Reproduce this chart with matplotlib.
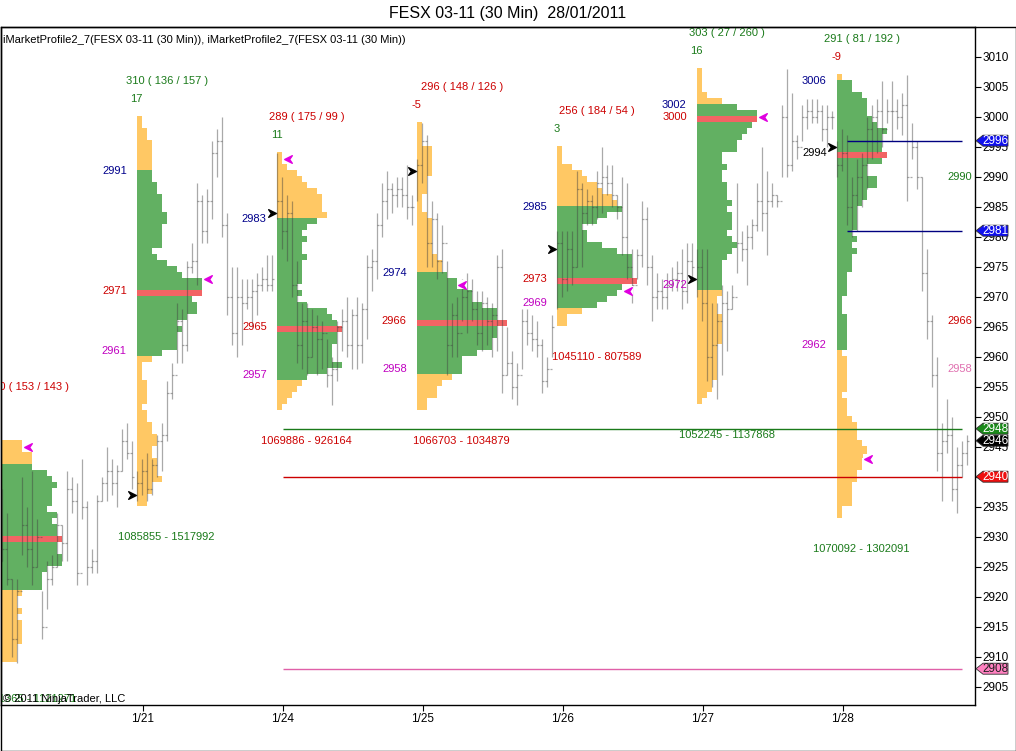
import matplotlib
matplotlib.use("Agg")
import matplotlib.pyplot as plt
import numpy as np
from matplotlib.path import Path
from matplotlib.patches import Polygon, Rectangle

plt.rcParams['font.family'] = ['Liberation Sans', 'DejaVu Sans']

DAY_LABELS = ["1/20", "1/21", "1/24", "1/25", "1/26", "1/27", "1/28"]

# market profile rows: top price, then TPO count per 1-point row going down
PROFILE_TOP = [2949, 3000, 2994, 2999, 2995, 3008, 3007]
PROFILE_TPO = [
    [1, 1, 1, 5, 5, 7, 7, 7, 10, 11, 12, 11, 11, 11, 10, 12, 11, 12, 12, 13, 12, 12, 13, 13, 10, 9, 9, 9,
     5, 4, 4, 5, 4, 5, 5, 5, 5, 4, 4, 4, 1],
    [1, 1, 2, 2, 3, 3, 3, 3, 3, 3, 3, 4, 4, 5, 5, 5, 6, 6, 5, 5, 5, 5, 3, 4, 6, 8, 9, 13, 13, 13, 11, 12, 12,
     10, 8, 9, 8, 8, 8, 5, 3, 1, 1, 1, 2, 2, 2, 2, 1, 2, 2, 3, 3, 4, 4, 3, 3, 4, 4, 4, 5, 3, 3, 2, 2],
    [1, 1, 2, 4, 5, 6, 8, 9, 9, 9, 10, 8, 6, 5, 6, 5, 5, 6, 5, 5, 5, 5, 4, 5, 4, 6, 10, 11, 12, 13, 12, 12,
     11, 11, 11, 13, 10, 6, 5, 4, 3, 2, 1],
    [1, 1, 1, 1, 3, 3, 3, 3, 3, 2, 2, 2, 1, 1, 1, 2, 3, 3, 3, 3, 3, 3, 4, 5, 5, 6, 8, 10, 11, 11, 13, 16, 16,
     18, 16, 16, 15, 15, 12, 9, 9, 9, 7, 5, 4, 4, 2, 2],
    [1, 1, 1, 3, 5, 6, 8, 9, 11, 12, 13, 10, 8, 5, 6, 6, 9, 12, 15, 15, 15, 15, 16, 13, 12, 10, 8, 5, 2, 2],
    [1, 1, 1, 1, 2, 5, 8, 12, 12, 11, 10, 9, 8, 8, 5, 5, 6, 5, 5, 6, 6, 6, 7, 6, 7, 7, 7, 6, 7, 8, 7, 6, 5,
     5, 5, 5, 5, 5, 4, 4, 4, 5, 5, 5, 5, 5, 4, 4, 4, 4, 4, 4, 3, 3, 2, 1],
    [1, 3, 3, 5, 6, 6, 6, 7, 8, 10, 9, 9, 9, 10, 9, 6, 6, 8, 8, 6, 6, 5, 4, 4, 4, 4, 3, 4, 3, 4, 3, 3, 3, 2,
     2, 2, 2, 1, 1, 1, 2, 2, 2, 2, 2, 2, 1, 2, 2, 2, 2, 2, 2, 1, 2, 2, 2, 3, 4, 4, 4, 5, 6, 6, 5, 5, 4, 4,
     3, 3, 3, 3, 1, 1],
]
VAH = [2942, 2991, 2983, 2974, 2985, 3002, 3006]
VAL = [2922, 2961, 2957, 2958, 2969, 2972, 2962]
POC = [2930, 2971, 2965, 2966, 2973, 3000, 2994]
OPEN_MARK = [None, 2937, 2984, 2991, 2978, 2973, 2995]
CLOSE_MARK = [2945, 2973, 2993, 2972, 2971, 3000, 2943]
TPO_TOTAL = [290, 310, 289, 296, 256, 303, 291]
TPO_UP = [153, 136, 175, 148, 184, 27, 81]
TPO_DN = [143, 157, 99, 126, 54, 260, 192]
DELTA = [None, 17, 11, -5, 3, 16, -9]
VOL_A = [1021365, 1085855, 1069886, 1066703, 1045110, 1052245, 1070092]
VOL_B = [1121271, 1517992, 926164, 1034879, 807589, 1137868, 1302091]

# 30 min bars per day
BAR_HIGH = [
    [2932, 2938, 2934, 2923, 2923, 2940, 2935, 2941, 2933, 2921, 2926, 2927, 2934, 2932, 2941, 2940, 2939,
     2943, 2936, 2928, 2937, 2940, 2945, 2943, 2942, 2948, 2949, 2946],
    [2941, 2943, 2944, 2943, 2947, 2949, 2956, 2959, 2969, 2968, 2976, 2979, 2989, 2987, 2988, 2996, 2998,
     3000, 2984, 2975, 2975, 2973, 2973, 2973, 2974, 2975, 2977, 2977],
    [2994, 2990, 2987, 2986, 2976, 2969, 2969, 2968, 2967, 2966, 2963, 2960, 2966, 2968, 2970, 2968, 2970,
     2969, 2977, 2978, 2984, 2989, 2991, 2989, 2990, 2990, 2992, 2987],
    [2993, 2999, 2997, 2986, 2984, 2982, 2976, 2969, 2970, 2973, 2974, 2973, 2971, 2971, 2970, 2969, 2977,
     2978, 2965, 2961, 2959, 2968, 2968, 2967, 2966, 2963, 2960, 2967],
    [2981, 2981, 2981, 2981, 2991, 2989, 2988, 2987, 2991, 2995, 2992, 2992, 2987, 2990, 2989, 2978, 2978,
     2986, 2985, 2977, 2974, 2973, 2974, 2975, 2976, 2978, 2979, 2979],
    [2978, 2978, 2978, 2969, 2969, 2972, 2971, 2972, 2989, 2981, 2982, 2983, 2989, 2995, 2991, 2989, 2987,
     3002, 3008, 3004, 2997, 3002, 3003, 3003, 3003, 3002, 3002, 3001],
    [2996, 2998, 2997, 2990, 2993, 2994, 3000, 3002, 3003, 3006, 3003, 3006, 3003, 3004, 3007, 2999, 2996,
     2990, 2978, 2967, 2960, 2949, 2953, 2950, 2945, 2946, 2947],
]
BAR_LOW = [
    [2924, 2926, 2922, 2910, 2909, 2927, 2925, 2922, 2925, 2913, 2918, 2922, 2925, 2926, 2926, 2934, 2922,
     2933, 2922, 2924, 2924, 2936, 2936, 2937, 2935, 2941, 2943, 2938],
    [2936, 2937, 2936, 2937, 2940, 2941, 2946, 2953, 2959, 2959, 2961, 2974, 2972, 2979, 2979, 2983, 2990,
     2980, 2967, 2962, 2960, 2962, 2968, 2965, 2967, 2971, 2971, 2971],
    [2983, 2978, 2976, 2970, 2959, 2958, 2957, 2960, 2957, 2958, 2955, 2952, 2956, 2961, 2960, 2958, 2958,
     2959, 2963, 2971, 2973, 2980, 2983, 2984, 2985, 2985, 2983, 2982],
    [2986, 2989, 2975, 2975, 2973, 2974, 2957, 2960, 2960, 2966, 2964, 2966, 2962, 2961, 2962, 2960, 2961,
     2954, 2957, 2953, 2952, 2958, 2962, 2961, 2960, 2954, 2955, 2960],
    [2968, 2970, 2971, 2972, 2975, 2975, 2982, 2982, 2983, 2984, 2987, 2985, 2983, 2977, 2973, 2969, 2973,
     2975, 2972, 2966, 2968, 2968, 2968, 2971, 2971, 2968, 2969, 2973],
    [2970, 2966, 2956, 2955, 2953, 2957, 2961, 2968, 2974, 2976, 2972, 2978, 2981, 2981, 2977, 2985, 2985,
     2990, 2990, 2991, 2993, 2996, 2998, 2999, 2999, 2996, 2995, 2998],
    [2990, 2991, 2982, 2980, 2981, 2985, 2988, 2993, 2994, 2995, 2999, 2996, 2998, 2997, 2986, 2993, 2988,
     2971, 2963, 2955, 2941, 2936, 2944, 2936, 2934, 2940, 2942],
]
BAR_CLOSE = [
    [2926, 2928, 2923, 2913, 2921, 2932, 2928, 2925, 2930, 2915, 2923, 2925, 2932, 2929, 2938, 2936, 2924,
     2935, 2925, 2926, 2936, 2939, 2941, 2939, 2941, 2946, 2944, 2940],
    [2939, 2941, 2938, 2942, 2946, 2947, 2954, 2957, 2966, 2962, 2975, 2976, 2986, 2981, 2986, 2994, 2996,
     2982, 2970, 2964, 2970, 2969, 2970, 2971, 2972, 2973, 2972, 2973],
    [2986, 2981, 2984, 2972, 2962, 2966, 2960, 2965, 2963, 2964, 2957, 2958, 2965, 2966, 2962, 2967, 2962,
     2968, 2975, 2976, 2982, 2986, 2988, 2987, 2988, 2987, 2985, 2985],
    [2992, 2996, 2979, 2983, 2976, 2979, 2962, 2967, 2964, 2970, 2971, 2968, 2964, 2969, 2966, 2967, 2975,
     2957, 2959, 2955, 2957, 2966, 2964, 2963, 2962, 2956, 2958, 2965],
    [2979, 2973, 2978, 2975, 2988, 2984, 2986, 2985, 2989, 2990, 2989, 2987, 2985, 2980, 2975, 2972, 2977,
     2983, 2975, 2970, 2971, 2970, 2972, 2973, 2974, 2971, 2976, 2975],
    [2975, 2969, 2960, 2962, 2966, 2969, 2968, 2970, 2979, 2978, 2980, 2982, 2986, 2984, 2986, 2987, 2986,
     3000, 2992, 2996, 2995, 3000, 3001, 3000, 3001, 2998, 3000, 3000],
    [2992, 2994, 2985, 2987, 2990, 2992, 2998, 3000, 3001, 2998, 3001, 3001, 3000, 3002, 2990, 2995, 2990,
     2974, 2966, 2957, 2944, 2946, 2947, 2938, 2942, 2944, 2946],
]

# horizontal levels drawn across the last sessions
LEVEL_PRICE = [2996, 2981, 2948, 2940, 2908]
LEVEL_COLOR = ['#000080', '#000080', '#1a7a1a', '#cc0000', '#e060a8']
LEVEL_FROM = [5.03, 5.03, 1.0, 1.0, 1.0]
TAG_PRICE = [2996, 2981, 2948, 2946, 2940, 2908]
TAG_FACE = ['#1010ee', '#1010ee', '#1a8a1a', '#000000', '#ee1010', '#ff80c0']
TAG_TEXT = ['white', 'white', 'white', 'white', 'white', '#202020']
SIDE_LABELS = [(2990, '#1a7a1a'), (2966, '#cc0000'), (2958, '#e070b0')]

ORANGE = '#ffc864'
GREEN = '#62b062'
POC_RED = '#f26464'
TXT_GREEN = '#1a7a1a'
TXT_RED = '#cc0000'
NAVY = '#00008b'
MAGENTA = '#c000c0'

# layout: pixel <-> data
W, H = 1016, 751
X0, DAY_PX = 142.7, 140.0
PX = 1.0 / DAY_PX
TPO_W = 5 * PX
LABEL_DX = [31, 30, 30, 45, 40, 30, 25]
CLOSE_DX = [28, 68.5, 8.5, 42.5, 68.5, 63.5, 28.5]


def px_x(px):
    return (px - X0) / DAY_PX


def py_price(py):
    return 3010 - (py - 56.7) / 6.0


fig = plt.figure(figsize=(W / 100, H / 100), dpi=100)
ax_l, ax_r, ax_t, ax_b = 0.5, 974.5, 27, 705
ax = fig.add_axes([ax_l / W, 1 - ax_b / H, (ax_r - ax_l) / W, (ax_b - ax_t) / H])
ax.set_xlim(px_x(ax_l), px_x(ax_r))
ax.set_ylim(py_price(ax_b), py_price(ax_t))

arrow_r = Path([(-1, 1), (1, 0), (-1, -1), (-0.3, 0), (-1, 1)],
               [Path.MOVETO, Path.LINETO, Path.LINETO, Path.LINETO, Path.CLOSEPOLY])
arrow_l = Path([(1, 1), (-1, 0), (1, -1), (0.3, 0), (1, 1)],
               [Path.MOVETO, Path.LINETO, Path.LINETO, Path.LINETO, Path.CLOSEPOLY])

for d in range(len(DAY_LABELS)):
    left = (d - 1) - 6 * PX
    counts = np.array(PROFILE_TPO[d])
    top = PROFILE_TOP[d]
    prices = top - np.arange(len(counts))
    bottom = prices[-1]
    colors = []
    for p in prices:
        if p == POC[d]:
            colors.append(POC_RED)
        elif VAL[d] <= p <= VAH[d]:
            colors.append(GREEN)
        else:
            colors.append(ORANGE)
    ax.barh(prices - 0.33, counts * TPO_W, height=1.0, left=left, color=colors,
            linewidth=0, zorder=2)

    # price bars
    hi = np.array(BAR_HIGH[d])
    lo = np.array(BAR_LOW[d])
    cl = np.array(BAR_CLOSE[d])
    xs = (d - 1) + (5 * np.arange(len(hi)) - 5.4) * PX
    # open tick taken as the prior bar's close
    op = np.concatenate([[OPEN_MARK[d] if OPEN_MARK[d] else cl[0]], cl[:-1]])
    ax.vlines(xs, lo, hi, color='#404040', alpha=0.45, lw=0.9, zorder=3)
    ax.hlines(cl, xs, xs + 2 * PX, color='#404040', alpha=0.45, lw=0.9, zorder=3)
    ax.hlines(op, xs - 2 * PX, xs, color='#404040', alpha=0.45, lw=0.9, zorder=3)

    kw = dict(fontsize=8, clip_on=True, zorder=6)
    cx = left + LABEL_DX[d] * PX
    hcol = TXT_RED if TPO_UP[d] > TPO_DN[d] else TXT_GREEN
    ax.text(cx, top + 6, f"{TPO_TOTAL[d]} ( {TPO_UP[d]} / {TPO_DN[d]} )", color=hcol,
            ha='center', va='center', **kw)
    if DELTA[d] is not None:
        ax.text(left, top + 3, str(DELTA[d]), color=TXT_GREEN if DELTA[d] > 0 else TXT_RED,
                ha='center', va='center', **kw)
    vcol = TXT_RED if VOL_A[d] > VOL_B[d] else TXT_GREEN
    ax.text(cx, bottom - 6, f"{VOL_A[d]} - {VOL_B[d]}", color=vcol, ha='center', va='center', **kw)

    lx = left - 10 * PX
    ax.text(lx, VAH[d], str(VAH[d]), color=NAVY, ha='right', va='center', **kw)
    ax.text(lx, POC[d], str(POC[d]), color='black' if d == len(DAY_LABELS) - 1 else TXT_RED,
            ha='right', va='center', **kw)
    ax.text(lx, VAL[d], str(VAL[d]), color=MAGENTA, ha='right', va='center', **kw)

    if OPEN_MARK[d] is not None:
        ax.plot(left - 5 * PX, OPEN_MARK[d], marker=arrow_r, markersize=5.5, color='black',
                linestyle='none', zorder=7, clip_on=True)
    mx = left + CLOSE_DX[d] * PX
    ax.add_patch(Rectangle((mx - 2 * PX, CLOSE_MARK[d] - 0.75), 10 * PX, 1.5, facecolor='white',
                           edgecolor='none', zorder=4, clip_on=True))
    ax.plot(mx + 3 * PX, CLOSE_MARK[d], marker=arrow_l, markersize=5.5, color='#e000e0',
            linestyle='none', zorder=7, clip_on=True)

for p, c, x_from in zip(LEVEL_PRICE, LEVEL_COLOR, LEVEL_FROM):
    ax.hlines(p, x_from, px_x(962), color=c, lw=1.0, zorder=5)

for p, c in SIDE_LABELS:
    ax.text(px_x(972.5), p, str(p), color=c, fontsize=8, ha='right', va='center', zorder=6)

ax.text(px_x(3), py_price(40), "iMarketProfile2_7(FESX 03-11 (30 Min)), iMarketProfile2_7(FESX 03-11 (30 Min))",
        fontsize=8, ha='left', va='center', color='black')
ax.text(px_x(3), py_price(699), "\u00a9 2011 NinjaTrader, LLC", fontsize=8, ha='left', va='center',
        color='black', zorder=8)

ax.yaxis.tick_right()
ax.set_yticks(np.arange(2905, 3011, 5))
ax.set_xticks(np.arange(6))
ax.set_xticklabels(DAY_LABELS[1:])
ax.tick_params(axis='both', direction='out', length=4, width=0.8, labelsize=8.5, pad=1.5,
               colors='black')
for s in ax.spines.values():
    s.set_linewidth(1.0)
    s.set_color('black')

# price tags on the right axis
for p, fc, tc in zip(TAG_PRICE, TAG_FACE, TAG_TEXT):
    py = 56.7 + (3010 - p) * 6.0
    pts = [(976, py), (983, py - 5.5), (1008, py - 5.5), (1008, py + 5.5), (983, py + 5.5)]
    pts = [(x / W, 1 - y / H) for x, y in pts]
    fig.add_artist(Polygon(pts, closed=True, facecolor=fc, edgecolor='#303030', lw=0.6,
                           transform=fig.transFigure, zorder=5))
    fig.text(995.5 / W, 1 - py / H, str(p), color=tc, fontsize=8.5, ha='center', va='center',
             zorder=6)

fig.add_artist(Rectangle((0.5 / W, 0.5 / H), 1015 / W, (H - 27 - 0.5) / H, fill=False,
                         edgecolor='black', lw=1.0, transform=fig.transFigure, zorder=9))
fig.text(508 / W, 1 - 13.5 / H, "FESX 03-11 (30 Min)  28/01/2011", fontsize=11.5, ha='center',
         va='center', color='black')

fig.savefig("out.png", dpi=100, facecolor='white')
